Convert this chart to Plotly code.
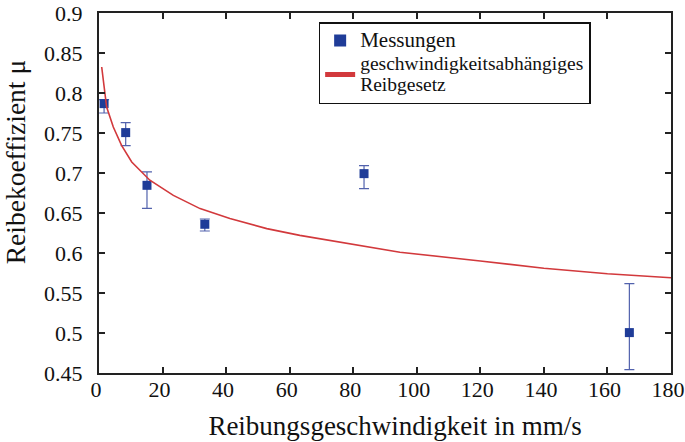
import plotly.graph_objects as go

# Measurements
meas_v = [1.6, 8.4, 15.1, 33.3, 83.4, 166.9]
meas_mu = [0.7867, 0.7505, 0.6846, 0.6359, 0.6992, 0.5005]
err_plus = [0.0050, 0.0125, 0.0167, 0.0066, 0.0100, 0.0612]
err_minus = [0.0117, 0.0163, 0.0287, 0.0084, 0.0187, 0.0462]

# Velocity-dependent friction law
curve_v = [0.85, 2.4, 4.5, 7.1, 10.3, 16.0, 23.4, 31.8, 41.2, 52.8, 63.2, 79, 94.7, 120, 140, 160, 180]
curve_mu = [0.8325, 0.7825, 0.7575, 0.7346, 0.7138, 0.691, 0.672, 0.6555, 0.643, 0.6305,
            0.622, 0.611, 0.601, 0.590, 0.581, 0.574, 0.569]

x_ticks = [0, 20, 40, 60, 80, 100, 120, 140, 160, 180]
y_ticks = [0.45, 0.5, 0.55, 0.6, 0.65, 0.7, 0.75, 0.8, 0.85, 0.9]

FONT = "Liberation Serif, Times New Roman, serif"

fig = go.Figure()
fig.add_trace(go.Scatter(
    x=meas_v, y=meas_mu, mode="markers",
    name="<span style='font-size:21px'>Messungen</span>",
    marker=dict(symbol="square", size=9, color="#1f3c98"),
    error_y=dict(type="data", symmetric=False, array=err_plus, arrayminus=err_minus,
                 color="#5262ad", thickness=1.2, width=5),
))
fig.add_trace(go.Scatter(
    x=curve_v, y=curve_mu, mode="lines",
    name="<span style='font-size:19.5px'>geschwindigkeitsabhängiges<br>Reibgesetz</span>",
    line=dict(color="#d2393c", width=1.6),
))

axis_common = dict(
    showline=True, linecolor="#222222", linewidth=2, mirror="ticks",
    ticks="inside", ticklen=6, tickcolor="#222222", tickwidth=1.5,
    showgrid=False, zeroline=False, automargin=False,
    tickfont=dict(family=FONT, size=22, color="#111111"),
    ticklabeloverflow="allow",
)

fig.update_layout(
    width=685, height=442,
    margin=dict(l=99, r=14, t=13, b=69),
    paper_bgcolor="white", plot_bgcolor="white",
    font=dict(family=FONT, color="#111111"),
    showlegend=True,
    legend=dict(
        x=0.384, y=0.975, xanchor="left", yanchor="top",
        bordercolor="#111111", borderwidth=1.5, bgcolor="white",
        font=dict(family=FONT, size=16, color="#111111"),
        tracegroupgap=0, itemsizing="constant",
    ),
    xaxis=dict(range=[0, 180], tickvals=x_ticks, ticklabelstandoff=-4, ticklabelshift=-3,
               title=dict(text="&nbsp;&nbsp;&nbsp;Reibungsgeschwindigkeit in mm/s", standoff=15,
                          font=dict(family=FONT, size=27)),
               **axis_common),
    yaxis=dict(range=[0.45, 0.9], tickvals=y_ticks,
               ticktext=[f"{v:g}" for v in y_ticks], ticklabelstandoff=10,
               title=dict(text="&nbsp;&nbsp;&nbsp;&nbsp;&nbsp;&nbsp;&nbsp;&nbsp;&nbsp;Reibekoeffizient μ",
                          standoff=19, font=dict(family=FONT, size=27.5)),
               **axis_common),
)

fig.write_html("out.html", config={"displayModeBar": False},
               post_script="document.body.style.margin='0';")
